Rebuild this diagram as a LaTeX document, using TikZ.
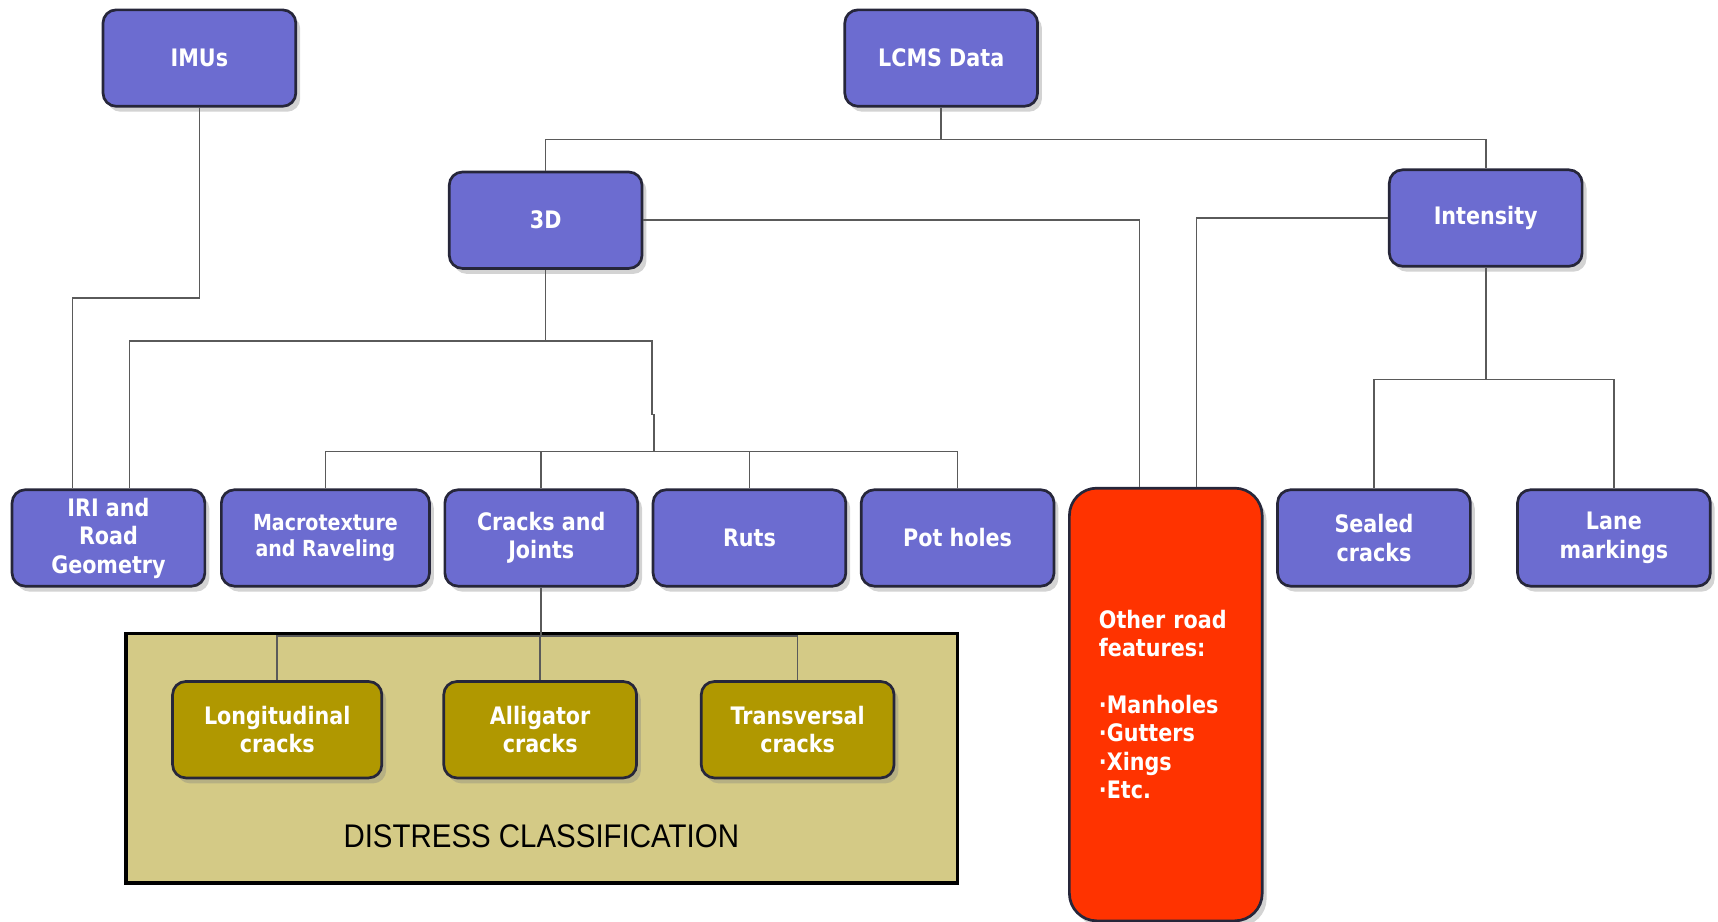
\documentclass[tikz,border=0pt]{standalone}
\usepackage{fontspec}
\usepackage{tikz}
\usetikzlibrary{calc,shadows}
\newfontfamily\boxfont{DejaVu Sans}[FakeStretch=0.86]
\newfontfamily\labelfont{Liberation Sans}[FakeStretch=0.9]

\definecolor{boxblue}{RGB}{108,108,208}
\definecolor{boxedge}{RGB}{38,38,58}
\definecolor{crackgold}{RGB}{176,152,0}
\definecolor{sand}{RGB}{212,202,134}
\definecolor{roadred}{RGB}{255,51,0}
\definecolor{linkgray}{RGB}{90,90,90}

\tikzset{
  item/.style={draw=boxedge, line width=1.4pt, rounded corners=0.24cm,
    fill=boxblue, text=white, align=center,
    minimum width=3.52cm, minimum height=1.76cm,
    font=\boxfont\bfseries\fontsize{12.5}{14.8}\selectfont,
    drop shadow={opacity=0.35, shadow xshift=0.08cm, shadow yshift=-0.1cm}},
  crackitem/.style={item, fill=crackgold},
  link/.style={draw=linkgray, line width=0.8pt}
}

\begin{document}
\begin{tikzpicture}[x=0.02cm, y=-0.02cm]
    \useasboundingbox (0,0) rectangle (1568,841);

    % data sources
    \node[item] (imus) at (182,53) {IMUs};
    \node[item] (lcms) at (859,53) {LCMS Data};
    \node[item] (td) at (498,201) {3D};
    \node[item] (intensity) at (1356,199) {Intensity};

    % measured features
    \node[item] (iri) at (99,491) {IRI and\\Road\\Geometry};
    \node[item, minimum width=3.8cm, font=\boxfont\bfseries\fontsize{11.5}{13.6}\selectfont]
      (macro) at (297,491) {Macrotexture\\and Raveling};
    \node[item] (cracks) at (494,491) {Cracks and\\Joints};
    \node[item] (ruts) at (684,491) {Ruts};
    \node[item] (potholes) at (874,491) {Pot holes};
    \node[item, fill=roadred, minimum height=7.9cm, text width=2.44cm, align=left,
      rounded corners=0.5cm] (other) at (1064,643)
      {Other road\\features:\\[14.8pt]·Manholes\\·Gutters\\·Xings\\·Etc.};
    \node[item] (sealed) at (1254,491) {Sealed\\cracks};
    \node[item] (lane) at (1473,491) {Lane\\markings};

    % distress classification panel
    \node[draw=black, line width=1.8pt, fill=sand, minimum width=15.18cm,
      minimum height=4.56cm] (panel) at (494.5,692) {};
    \node[font=\labelfont\fontsize{17}{20}\selectfont] (paneltitle) at (494,763)
      {DISTRESS CLASSIFICATION};
    \node[crackitem, minimum width=3.82cm] (longi) at (253,666) {Longitudinal\\cracks};
    \node[crackitem] (alligator) at (493,666) {Alligator\\cracks};
    \node[crackitem] (transv) at (728,666) {Transversal\\cracks};

    % connectors
    \draw[link] (imus.south) -- ++(0,174) -| ($(iri.north)+(-33,0)$);
    \draw[link] (lcms.south) -- ++(0,29) -| (td.north);
    \draw[link] (lcms.south) -- ++(0,29) -| (intensity.north);
    \draw[link] (td.east) -| ($(other.north)+(-24,0)$);
    \draw[link] (intensity.west) -| ($(other.north)+(28,0)$);
    \draw[link] (td.south) -- ++(0,65) -| ($(iri.north)+(19,0)$);
    \draw[link] (td.south) -- ++(0,65) -| ++(97,67) -- ++(2,0) -- ++(0,34) coordinate (hub);
    \foreach \n in {macro,cracks,ruts,potholes}
      \draw[link] (hub) -| (\n.north);
    \draw[link] (intensity.south) -- ++(0,102) coordinate (ihub);
    \foreach \n in {sealed,lane}
      \draw[link] (ihub) -| (\n.north);
    \draw[link] (cracks.south) -- ++(0,44) coordinate (chub);
    \foreach \n in {longi,alligator,transv}
      \draw[link] (chub) -| (\n.north);
\end{tikzpicture}
\end{document}
